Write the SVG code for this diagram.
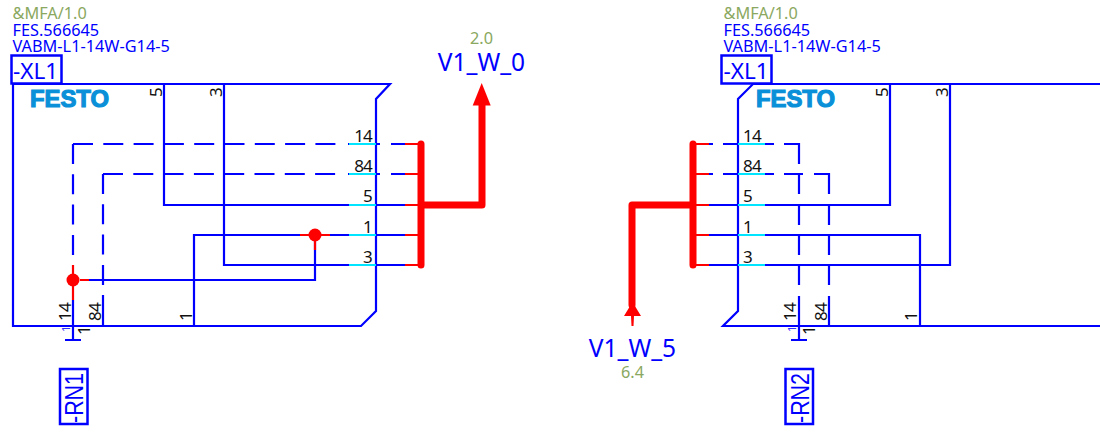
<svg xmlns="http://www.w3.org/2000/svg" width="1100" height="434" viewBox="0 0 1100 434">
<defs><style>
text{font-family:"Noto Sans","DejaVu Sans",sans-serif}
.b{fill:none;stroke:#0000ff;stroke-width:2.200}
.d{stroke-dasharray:20 10.3}
.c{fill:none;stroke:#00e5ff;stroke-width:2.200}
.r{fill:none;stroke:#ff0000;stroke-width:2.200}
.R{fill:none;stroke:#ff0000;stroke-width:7;stroke-linecap:round;stroke-linejoin:round}
.box{fill:none;stroke:#0000ff;stroke-width:2.500}
.g{fill:#8aa860;font-size:16.300px}
.t{fill:#0000ff;font-size:16.300px}
.big{fill:#0000ff;font-size:24.500px}
.x{fill:#0000ff;font-size:22.500px}
.k{fill:#111111;font-size:17px;letter-spacing:-.8px}
.f{fill:#0a90d8;stroke:#0a90d8;stroke-width:1.200px;font-family:"Liberation Sans",sans-serif;font-weight:bold;font-size:24px}
.rn{fill:#0000ff;font-family:"Liberation Sans",sans-serif;font-size:25px}
.s{fill:#3333ff;font-size:11px}
</style></defs>
<g id="connectors">
<path class="b" d="M13 84H390L376 99V311L361 326H13Z"/>
<path class="b" d="M164 84V205H405M224 84V265H405M194 326V235H303M327 235H405M315 240V280H80"/>
<path class="b d" d="M73 144V265"/>
<path class="b d" d="M73 144H336"/>
<path class="b" d="M348 144H380M391 144H405"/>
<path class="b d" d="M103 174V285"/>
<path class="b d" d="M103 174H336"/>
<path class="b" d="M348 174H380M391 174H405"/>
<path class="b" d="M73 300V340M65 340H81M103 295V326"/>
<path class="c" d="M349 144H376M349 174H376M349 205H376M349 235H376M349 265H376"/>
<path class="r" d="M405 144H420M405 174H420M405 205H420M405 235H420M405 265H420M73 265V300M80 280H89M300 235H330M315 240V250"/>
<path class="R" d="M421 144V265M421 205H482V104"/>
<path fill="#ff0000" d="M481.700 83L490.700 105.500H472.700Z"/>
<path class="b" d="M1100 84H753L738 99V311L723 326H1100"/>
<path class="b" d="M709 205H890V84M709 235H920V326M709 265H950V84"/>
<path class="b" d="M709 144H713M723 144H774M784 144H799V164M799 174V194M799 204V225M799 235V255M799 265V285M799 296V340M791 340H807"/>
<path class="b" d="M709 174H713M723 174H774M784 174H803M814 174H829V194M829 204V225M829 235V255M829 265V285M829 296V326"/>
<path class="c" d="M738 144H765M738 174H765M738 205H765M738 235H765M738 265H765"/>
<path class="r" d="M694 144H709M694 174H709M694 205H709M694 235H709M694 265H709"/>
<path class="R" d="M693 144V265M693 205H632V305"/>
<path fill="#ff0000" d="M632.500 302L641 316H634L633.500 326H631.500L631 316H624Z"/>
<circle cx="73" cy="280" r="6.500" fill="#ff0000"/>
<circle cx="315" cy="235" r="6.500" fill="#ff0000"/>
</g>
<g id="xl1-left">
<text class="g" x="12.500" y="19">&amp;MFA/1.0</text>
<text class="t" x="12.500" y="36">FES.566645</text>
<text class="t" x="12.500" y="52">VABM-L1-14W-G14-5</text>
<rect class="box" x="11.500" y="55.500" width="50" height="28"/>
<text class="x" x="13" y="79">-XL1</text>
<text class="f" x="30" y="107" textLength="79" lengthAdjust="spacingAndGlyphs">FESTO</text>
<text class="k" transform="translate(162 97) rotate(-90)">5</text>
<text class="k" transform="translate(222 97) rotate(-90)">3</text>
<text class="k" x="372" y="142" text-anchor="end">14</text>
<text class="k" x="372" y="172" text-anchor="end">84</text>
<text class="k" x="372" y="202" text-anchor="end">5</text>
<text class="k" x="372" y="233" text-anchor="end">1</text>
<text class="k" x="372" y="263" text-anchor="end">3</text>
<text class="k" transform="translate(71 321) rotate(-90)">14</text>
<text class="k" transform="translate(101 321) rotate(-90)">84</text>
<text class="k" transform="translate(192 321) rotate(-90)">1</text>
<text class="k" transform="translate(89.500 335) rotate(-90)">1</text>
<text class="s" transform="translate(69.500 332) rotate(-90)">1</text>
</g>
<g id="rn1"><rect class="box" x="60" y="369" width="27.500" height="55"/><text class="rn" transform="translate(82.500 423) rotate(-90)" textLength="50" lengthAdjust="spacingAndGlyphs">-RN1</text></g>
<g id="v1-w-0"><text class="g" x="481.500" y="44" text-anchor="middle">2.0</text><text class="big" x="481.500" y="71" text-anchor="middle">V1_W_0</text></g>
<g id="xl1-right">
<text class="g" x="723.500" y="19">&amp;MFA/1.0</text>
<text class="t" x="723.500" y="36">FES.566645</text>
<text class="t" x="723.500" y="52">VABM-L1-14W-G14-5</text>
<rect class="box" x="721.500" y="55.500" width="50" height="28"/>
<text class="x" x="723.500" y="79">-XL1</text>
<text class="f" x="756" y="107" textLength="79" lengthAdjust="spacingAndGlyphs">FESTO</text>
<text class="k" transform="translate(888 97) rotate(-90)">5</text>
<text class="k" transform="translate(948 97) rotate(-90)">3</text>
<text class="k" x="743" y="142">14</text>
<text class="k" x="743" y="172">84</text>
<text class="k" x="743" y="202">5</text>
<text class="k" x="743" y="233">1</text>
<text class="k" x="743" y="263">3</text>
<text class="k" transform="translate(796 321) rotate(-90)">14</text>
<text class="k" transform="translate(827 321) rotate(-90)">84</text>
<text class="k" transform="translate(917 321) rotate(-90)">1</text>
<text class="k" transform="translate(815 335) rotate(-90)">1</text>
<text class="s" transform="translate(795.500 332) rotate(-90)">1</text>
</g>
<g id="rn2"><rect class="box" x="785.500" y="369" width="27.500" height="55"/><text class="rn" transform="translate(808.500 423) rotate(-90)" textLength="50" lengthAdjust="spacingAndGlyphs">-RN2</text></g>
<g id="v1-w-5"><text class="big" x="632.500" y="357" text-anchor="middle">V1_W_5</text><text class="g" x="632.500" y="378" text-anchor="middle">6.4</text></g>
</svg>
